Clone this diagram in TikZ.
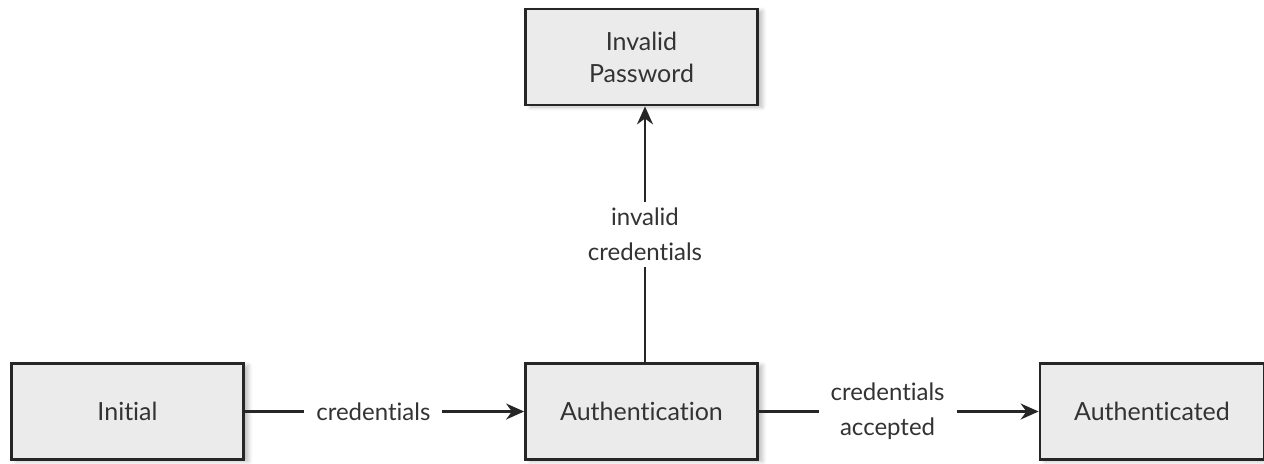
\documentclass[tikz,border=0pt]{standalone}
\usepackage{fontspec}
\setmainfont[RawFeature=-liga]{Lato}
\usetikzlibrary{arrows.meta,shadows.blur}
\begin{document}
\begin{tikzpicture}[x=0.5pt,y=-0.5pt,
  state/.style={draw=black!85, line width=1.4pt, fill=black!8,
    minimum width=116pt, minimum height=48pt, inner sep=0pt,
    align=center, font=\fontsize{12.5}{16}\selectfont, text=black!80,
    blur shadow={shadow xshift=2.5pt, shadow yshift=-1pt, shadow opacity=25, shadow blur steps=6}},
  trans/.style={draw=black!85, line width=1.1pt,
    -{Stealth[length=9pt,width=8pt]}},
  lbl/.style={fill=white, inner xsep=6pt, inner ysep=3pt, align=center,
    font=\fontsize{12}{17.5}\selectfont, text=black!80}]
\useasboundingbox (0,0) rectangle (1264,463);
\node[state] (init) at (127.5,411.5) {Initial};
\node[state] (auth) at (641.5,411.5) {Authentication};
\node[state, minimum width=112pt] (done) at (1152,411.5) {Authenticated};
\node[state] (bad) at (641.5,57) {Invalid\\Password};
\draw[trans] (init) -- node[lbl, pos=0.46] {credentials} (auth);
\draw[trans] (auth) -- node[lbl, pos=0.46] {credentials\\accepted} (done);
\draw[trans] (auth.north -| 645,0) -- node[lbl] {invalid\\credentials} (bad.south -| 645,0);
\end{tikzpicture}
\end{document}
